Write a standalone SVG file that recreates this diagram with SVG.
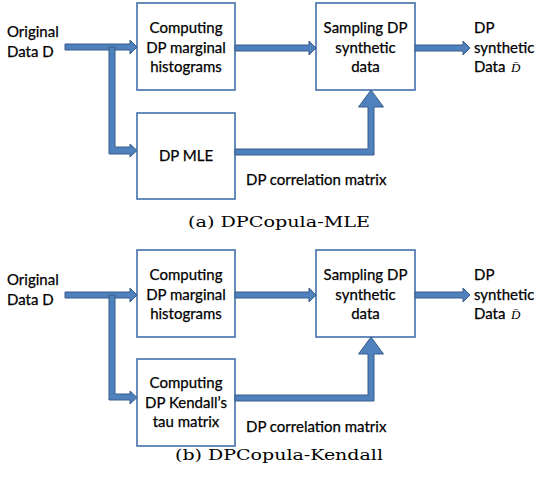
<svg xmlns="http://www.w3.org/2000/svg" width="536" height="490" viewBox="0 0 536 490">
<style>
.box{fill:#fff;stroke:#4270ac;stroke-width:1.6}
.arr{fill:#4f81bd;stroke:#385d8a;stroke-width:1;stroke-linejoin:miter}
.t{font-family:Lato,"Liberation Sans",sans-serif;font-size:15px;fill:#000;stroke:#000;stroke-width:0.25}
.c{text-anchor:middle}
.cap{font-family:"DejaVu Serif","Liberation Serif",serif;font-size:15px;fill:#000}
.m{font-family:"Liberation Serif",serif;font-style:italic;font-size:13px;fill:#000}
</style>
<rect width="536" height="490" fill="#fff"/>

<!-- Panel (a) -->
<g id="a-input"><text class="t" x="7" y="37">Original</text><text class="t" x="7" y="57">Data D</text></g>
<g id="a-hist"><rect class="box" x="137" y="3" width="98" height="87"/>
<text class="t c" x="186" y="33">Computing</text><text class="t c" x="186" y="52.5">DP marginal</text><text class="t c" x="186" y="72">histograms</text></g>
<g id="a-mle"><rect class="box" x="137" y="113" width="98" height="86"/>
<text class="t c" x="186" y="161">DP MLE</text></g>
<g id="a-sample"><rect class="box" x="316" y="3" width="99" height="87"/>
<text class="t c" x="365.5" y="33">Sampling DP</text><text class="t c" x="365.5" y="52.5">synthetic</text><text class="t c" x="365.5" y="72">data</text></g>
<g id="a-output"><text class="t" x="474" y="33">DP</text><text class="t" x="474" y="52.5">synthetic</text><text class="t" x="474" y="72">Data</text><text class="m" x="511" y="72">D&#x304;</text></g>
<g id="a-connectors">
<path class="arr" d="M65,44 H130 V40 L137,47 L130,54 V50 H65 Z"/>
<path class="arr" d="M109,47 H115 V147 H130 V144 L137,150.5 L130,157 V154 H109 Z"/>
<path class="arr" d="M235,45 H309 V41 L316,48 L309,55 V51 H235 Z"/>
<path class="arr" d="M415,45 H463 V41 L470,48 L463,55 V51 H415 Z"/>
<path class="arr" d="M235,149 H368 V107 H358.5 L371,90 L383.5,107 H374 V155 H235 Z"/>
<text class="t" x="246" y="185">DP correlation matrix</text>
</g>
<text class="cap" x="279" y="227" text-anchor="middle" textLength="182" lengthAdjust="spacingAndGlyphs">(a) DPCopula-MLE</text>

<!-- Panel (b) -->
<g id="b-input"><text class="t" x="7" y="285">Original</text><text class="t" x="7" y="305">Data D</text></g>
<g id="b-hist"><rect class="box" x="137" y="250" width="98" height="87"/>
<text class="t c" x="186" y="280">Computing</text><text class="t c" x="186" y="299.5">DP marginal</text><text class="t c" x="186" y="319">histograms</text></g>
<g id="b-kendall"><rect class="box" x="137" y="359" width="98" height="87"/>
<text class="t c" x="186" y="388">Computing</text><text class="t c" x="186" y="407.5">DP Kendall’s</text><text class="t c" x="186" y="427">tau matrix</text></g>
<g id="b-sample"><rect class="box" x="316" y="250" width="99" height="87"/>
<text class="t c" x="365.5" y="280">Sampling DP</text><text class="t c" x="365.5" y="299.5">synthetic</text><text class="t c" x="365.5" y="319">data</text></g>
<g id="b-output"><text class="t" x="474" y="280">DP</text><text class="t" x="474" y="299.5">synthetic</text><text class="t" x="474" y="319">Data</text><text class="m" x="511" y="319">D&#x304;</text></g>
<g id="b-connectors">
<path class="arr" d="M65,292 H130 V288 L137,295 L130,302 V298 H65 Z"/>
<path class="arr" d="M109,295 H115 V394 H130 V391 L137,397.5 L130,404 V400 H109 Z"/>
<path class="arr" d="M235,292 H309 V288 L316,295 L309,302 V298 H235 Z"/>
<path class="arr" d="M415,292 H463 V288 L470,295 L463,302 V298 H415 Z"/>
<path class="arr" d="M235,395 H368 V354 H358.5 L371,337 L383.5,354 H374 V401 H235 Z"/>
<text class="t" x="246" y="432">DP correlation matrix</text>
</g>
<text class="cap" x="279" y="460" text-anchor="middle" textLength="208" lengthAdjust="spacingAndGlyphs">(b) DPCopula-Kendall</text>
</svg>
